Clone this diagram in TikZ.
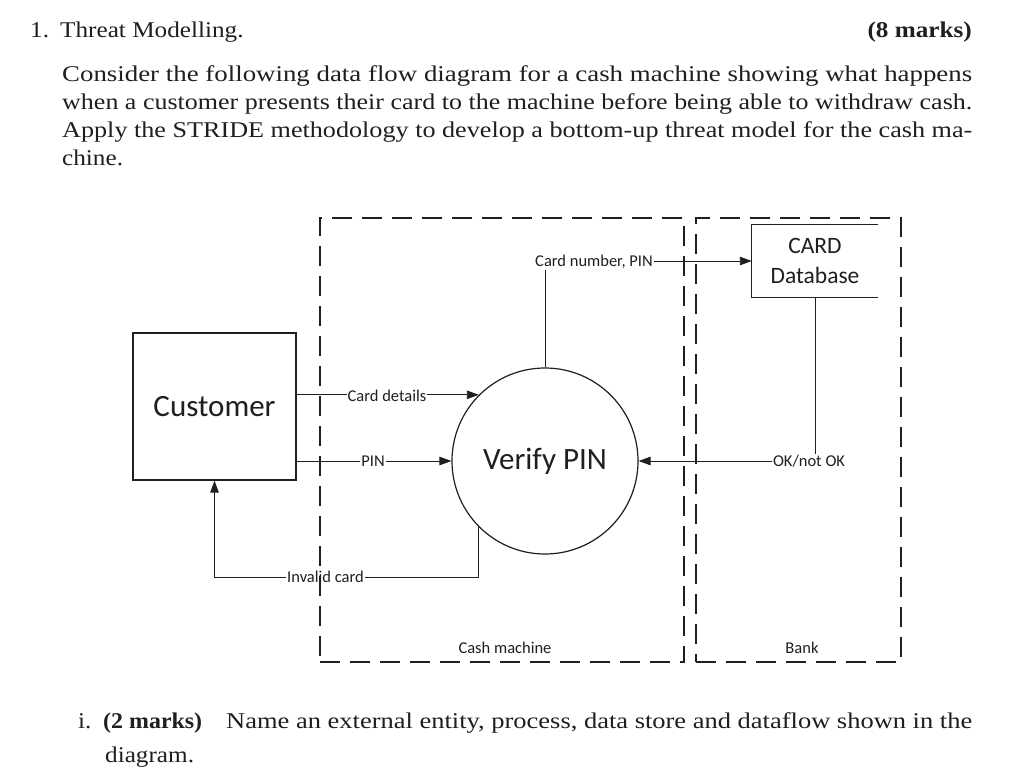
\documentclass[tikz,border=0pt]{standalone}
\usepackage{graphicx}
\usepackage{fontspec}
\setmainfont{Liberation Serif}[FakeStretch=1.12]
\newfontfamily\diag{Carlito}
\usetikzlibrary{arrows.meta}
\definecolor{ink}{rgb}{0.12,0.12,0.12}
\newcommand{\fitw}[2]{\resizebox{#1}{\height}{#2}}
\tikzset{
  body/.style={anchor=base west, inner sep=0pt, text=ink, font=\fontsize{22.5}{27}\selectfont},
  bodyb/.style={body, font=\bfseries\fontsize{22.5}{27}\selectfont},
  lbl/.style={font=\diag\fontsize{16.5}{16.5}\selectfont, text=ink, fill=white, inner sep=1pt},
  zonelabel/.style={font=\diag\fontsize{16.5}{16.5}\selectfont, text=ink, inner sep=0pt},
  flow/.style={draw=ink, line width=0.9pt, -{Triangle[length=12pt,width=8.5pt]}},
  boundary/.style={draw=ink, line width=2.2pt, dash pattern=on 20pt off 10pt, inner sep=0pt},
  entity/.style={draw=ink, line width=1.2pt, inner sep=0pt, text=ink, font=\diag\fontsize{31}{31}\selectfont}
}
\begin{document}
\begin{tikzpicture}[x=1pt,y=-1pt]
\useasboundingbox (0,0) rectangle (1024,770);
\fill[white] (0,0) rectangle (1024,770);

% question text
\node[body] (num) at (30,38) {1.};
\node[body] (title) at (60,38) {Threat Modelling.};
\node[bodyb, anchor=base east] (marks) at (972,38) {(8 marks)};
\node[body] (l1) at (62,82) {\fitw{910pt}{Consider the following data flow diagram for a cash machine showing what happens}};
\node[body] (l2) at (62,110) {\fitw{910pt}{when a customer presents their card to the machine before being able to withdraw cash.}};
\node[body] (l3) at (62,138) {\fitw{910pt}{Apply the STRIDE methodology to develop a bottom-up threat model for the cash ma-}};
\node[body] (l4) at (62,166) {chine.};

\node[body] (qi) at (78,728) {i.};
\node[bodyb] (qm) at (103,728) {\fitw{99pt}{(2 marks)}};
\node[body] (qt) at (226,728) {\fitw{746pt}{Name an external entity, process, data store and dataflow shown in the}};
\node[body] (qt2) at (105,762) {diagram.};

% entities
\node[entity, minimum width=163pt, minimum height=147pt] (cust) at (214.5,406.5) {Customer};
\node[entity, circle, minimum size=186pt] (vp) at (545,461) {\raisebox{-2pt}{Verify PIN}};
\node[inner sep=0pt, minimum width=126pt, minimum height=72pt, align=center, text=ink,
      font=\diag\fontsize{23.5}{30}\selectfont] (db) at (815,261) {CARD\\Database};
\draw[ink, line width=1.2pt] (db.north east) -- (db.north west) -- (db.south west) -- (db.south east);

% flows
\coordinate (cdpt) at (vp.135.65);
\draw[flow] (cust.east |- cdpt) -- (cdpt);
\node[lbl] (cdl) at (387,396) {Card details};

\draw[flow] (cust.east |- vp.west) -- (vp.west);
\node[lbl] (pinl) at (373,461) {PIN};

\coordinate (icy) at (0,577);
\draw[flow] (vp.225.6) -- (vp.225.6 |- icy) -- (cust.south |- icy) -- (cust.south);
\node[lbl] (icl) at (325.5,577) {Invalid card};

\draw[flow] (vp.north) |- (db.west);
\node[lbl] (cnl) at (594,262) {Card number, PIN};

\draw[flow] (db.south) -- (db.south |- vp.east) -- (vp.east);
\node[lbl] (okl) at (809,461) {OK/not OK};

% trust boundaries
\node[boundary, minimum width=364pt, minimum height=444pt] (cm) at (502,440) {};
\node[boundary, minimum width=205pt, minimum height=444pt] (bank) at (798.5,440) {};
\node[zonelabel] (cml) at (505,648) {Cash machine};
\node[zonelabel] (bkl) at (802,648) {Bank};
\end{tikzpicture}
\end{document}
